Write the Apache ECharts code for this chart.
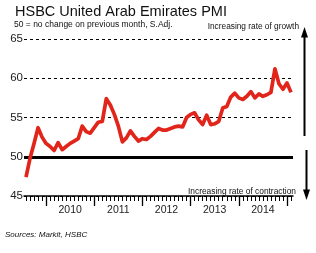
<!DOCTYPE html>
<html>
<head>
<meta charset="utf-8">
<script src="https://cdn.jsdelivr.net/npm/echarts@6/dist/echarts.min.js"></script>
<style>
html,body{margin:0;padding:0;background:#fff;}
#c{width:316px;height:253px;}
</style>
</head>
<body>
<div id="c"></div>
<script>
// Months Aug 2009 .. Feb 2015
const months = [
  '2009-08','2009-09','2009-10','2009-11','2009-12',
  '2010-01','2010-02','2010-03','2010-04','2010-05','2010-06','2010-07','2010-08','2010-09','2010-10','2010-11','2010-12',
  '2011-01','2011-02','2011-03','2011-04','2011-05','2011-06','2011-07','2011-08','2011-09','2011-10','2011-11','2011-12',
  '2012-01','2012-02','2012-03','2012-04','2012-05','2012-06','2012-07','2012-08','2012-09','2012-10','2012-11','2012-12',
  '2013-01','2013-02','2013-03','2013-04','2013-05','2013-06','2013-07','2013-08','2013-09','2013-10','2013-11','2013-12',
  '2014-01','2014-02','2014-03','2014-04','2014-05','2014-06','2014-07','2014-08','2014-09','2014-10','2014-11','2014-12',
  '2015-01','2015-02'
];
const pmi = [
  47.4, 49.8, 51.7, 53.7, 52.5,
  51.7, 51.3, 50.8, 51.8, 50.9, 51.3, 51.7, 52.0, 52.3, 53.9, 53.2, 53.0,
  53.7, 54.4, 54.5, 57.4, 56.6, 55.4, 53.9, 51.9, 52.4, 53.3, 52.6, 52.0,
  52.3, 52.2, 52.6, 53.1, 53.6, 53.4, 53.4, 53.6, 53.8, 53.9, 53.8, 55.0,
  55.4, 55.6, 54.7, 54.1, 55.3, 54.1, 54.2, 54.5, 56.2, 56.4, 57.6, 58.1,
  57.5, 57.3, 57.7, 58.3, 57.5, 58.0, 57.7, 57.9, 58.2, 61.2, 59.3, 58.6,
  59.4, 58.2
];
const yTicks = { min: 45, max: 65, step: 5 };
const baselineValue = 50;
const texts = {
  title: 'HSBC United Arab Emirates PMI',
  subtitle: '50 = no change on previous month, S.Adj.',
  up: 'Increasing rate of growth',
  down: 'Increasing rate of contraction',
  source: 'Sources: Markit, HSBC'
};

const FONT = '"Liberation Sans", Arial, sans-serif';
const chart = echarts.init(document.getElementById('c'), null, {renderer: 'canvas'});
chart.setOption({
  animation: false,
  backgroundColor: '#fff',
  grid: { left: 24, right: 23, top: 39, bottom: 57, containLabel: false },
  xAxis: [
    {
      type: 'category', data: months, boundaryGap: true, position: 'bottom',
      axisLine: { show: true, lineStyle: { color: '#000', width: 1.5 } },
      axisTick: { show: true, alignWithLabel: true, interval: 0, length: 5, lineStyle: { color: '#000', width: 1 } },
      axisLabel: {
        interval: (i, v) => v.endsWith('-07'),
        formatter: v => v.slice(0, 4),
        margin: 9, fontSize: 10.5, color: '#222', fontFamily: FONT
      },
      splitLine: { show: false }
    },
    {
      type: 'category', data: months, boundaryGap: true, position: 'bottom', offset: 0,
      axisLine: { show: false },
      axisTick: { show: true, alignWithLabel: true, interval: (i, v) => v.endsWith('-01'), length: 10, lineStyle: { color: '#000', width: 1.3 } },
      axisLabel: { show: false },
      splitLine: { show: false }
    }
  ],
  yAxis: {
    type: 'value', min: yTicks.min, max: yTicks.max, interval: yTicks.step,
    axisLine: { show: false }, axisTick: { show: false },
    axisLabel: { fontSize: 11.5, color: '#222', margin: 1, fontFamily: FONT },
    splitLine: { show: true, lineStyle: { color: '#000', width: 1, type: [3, 3] } }
  },
  series: [
    {
      name: 'baseline', type: 'line', data: [], z: 1, silent: true,
      markLine: {
        silent: true, symbol: ['none', 'none'], label: { show: false },
        lineStyle: { color: '#000', type: 'solid', width: 3 },
        data: [{ yAxis: baselineValue }]
      }
    },
    {
      name: 'PMI', type: 'line', data: pmi, z: 5, symbol: 'none', smooth: false,
      lineStyle: { color: '#e1251b', width: 3.7, join: 'round' }
    }
  ],
  graphic: [
    { type: 'text', style: { text: texts.title, x: 15, y: 12, textVerticalAlign: 'middle', font: '14.5px ' + FONT, fill: '#111' } },
    { type: 'text', style: { text: texts.subtitle, x: 14, y: 25, textVerticalAlign: 'middle', font: '8.5px ' + FONT, fill: '#111' } },
    { type: 'text', style: { text: texts.up, x: 299, y: 27, textAlign: 'right', textVerticalAlign: 'middle', font: '8.3px ' + FONT, fill: '#111' } },
    { type: 'text', style: { text: texts.down, x: 296, y: 192, textAlign: 'right', textVerticalAlign: 'middle', font: '8.4px ' + FONT, fill: '#111' } },
    { type: 'text', style: { text: texts.source, x: 5, y: 235, textVerticalAlign: 'middle', font: 'italic 8px ' + FONT, fill: '#111' } },
    { type: 'line', shape: { x1: 304.5, y1: 36, x2: 304.5, y2: 136 }, style: { stroke: '#000', lineWidth: 2 } },
    { type: 'polygon', shape: { points: [[304.5, 27], [301, 37.5], [308, 37.5]] }, style: { fill: '#000' } },
    { type: 'line', shape: { x1: 306.5, y1: 150, x2: 306.5, y2: 191 }, style: { stroke: '#000', lineWidth: 2 } },
    { type: 'polygon', shape: { points: [[306.5, 200], [303, 189.5], [310, 189.5]] }, style: { fill: '#000' } }
  ]
});
</script>
</body>
</html>
